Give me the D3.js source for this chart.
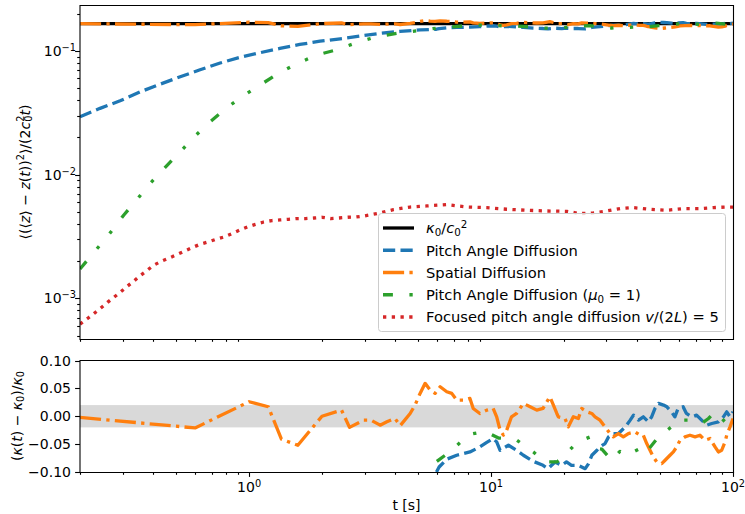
<!DOCTYPE html>
<html>
<head>
<meta charset="utf-8">
<script src="https://cdn.jsdelivr.net/npm/d3@7"></script>
<style>
  body { margin: 0; background: #fff; }
  svg { display: block; }
  text { font-family: "DejaVu Sans", sans-serif; fill: #000; }
</style>
</head>
<body>
<svg id="chart" width="745" height="514"></svg>
<script>
// Reference diffusion coefficient kappa0 / c0^2
const kappaRef = 1 / 6;
const timeDomain = [0.2, 100];

// Pitch angle diffusion, early times: [t, <(<z>-z)^2>/(2 c0^2 t)]
const pitchEarly = [
  [0.2, 0.0294], [0.242, 0.0344], [0.293, 0.0396], [0.355, 0.0468], [0.429, 0.0540],
  [0.519, 0.0619], [0.627, 0.0705], [0.759, 0.0800], [0.918, 0.0889], [1.11, 0.0969],
  [1.34, 0.105], [1.62, 0.113], [1.965, 0.120], [2.38, 0.1255], [2.87, 0.132],
  [3.48, 0.139], [4.2, 0.144], [5.1, 0.148]
];
// Pitch angle diffusion, relative deviation (kappa(t) - kappa0) / kappa0
const pitchDev = [
  [5.95, -0.1], [6.1, -0.091], [6.56, -0.077], [7.21, -0.070], [8.18, -0.064], [8.99, -0.055],
  [9.6, -0.047], [10.2, -0.040], [10.55, -0.046], [10.9, -0.061], [11.8, -0.052], [12.75, -0.061],
  [13.6, -0.070], [14.96, -0.081], [16.4, -0.088], [17.2, -0.094], [18.38, -0.082], [19.6, -0.088],
  [20.5, -0.082], [21.5, -0.088], [22.95, -0.088], [24.5, -0.094], [25.3, -0.085], [26.1, -0.070],
  [27.4, -0.061], [28.2, -0.055], [29.6, -0.049], [30.6, -0.037], [32.0, -0.031], [33.6, -0.031],
  [35.9, -0.019], [37.6, -0.007], [38.8, 0.002], [40.7, -0.007], [42.6, -0.001], [44.7, -0.010],
  [46.1, -0.001], [47.6, 0.014], [49.2, 0.023], [51.6, 0.020], [53.3, 0.017], [55.7, 0.008],
  [57.5, -0.001], [59.3, 0.014], [62.2, 0.017], [64.2, 0.005], [67.4, -0.001], [70.7, 0.002],
  [74.2, -0.007], [77.9, -0.016], [81.7, -0.013], [87.0, -0.010], [91.3, -0.001], [94.2, 0.008],
  [97.2, -0.001], [100, 0.008]
];
// Spatial diffusion, relative deviation
const spatialDev = [
  [0.2, -0.002], [0.598, -0.021], [1.0, 0.026], [1.2, 0.017], [1.36, -0.041], [1.59, -0.052],
  [2.0, 0.0], [2.41, 0.011], [2.6, -0.02], [2.97, -0.007], [3.19, -0.007], [3.48, -0.016],
  [3.71, -0.010], [4.01, -0.004], [4.21, -0.017], [4.63, 0.005], [4.85, 0.02], [5.09, 0.041],
  [5.34, 0.059], [5.6, 0.047], [5.87, 0.041], [6.16, 0.053], [6.56, 0.044], [6.88, 0.041],
  [7.21, 0.029], [7.68, 0.029], [8.18, 0.032], [8.44, 0.014], [8.99, 0.005], [9.6, 0.011],
  [10.2, 0.014], [10.55, -0.001], [10.9, -0.025], [11.25, -0.034], [11.6, -0.025], [12.15, -0.001],
  [12.75, 0.005], [13.6, 0.023], [14.5, 0.017], [15.45, 0.011], [16.4, 0.014], [17.5, 0.035],
  [18.1, 0.02], [18.7, 0.005], [18.97, -0.001], [20.22, -0.004], [20.86, -0.019], [21.88, -0.001],
  [22.95, -0.004], [23.7, 0.014], [24.86, 0.008], [26.08, 0.005], [26.9, -0.001], [28.21, -0.007],
  [29.59, -0.019], [31.02, -0.031], [32.02, -0.037], [33.58, -0.031], [35.22, -0.037], [36.94, -0.031],
  [39.36, -0.028], [41.28, -0.034], [42.6, -0.034], [44.0, -0.049], [45.4, -0.061], [46.85, -0.073],
  [48.4, -0.082], [50.75, -0.085], [52.4, -0.079], [54.9, -0.070], [56.7, -0.064], [58.5, -0.055],
  [60.4, -0.043], [63.3, -0.037], [66.4, -0.034], [69.7, -0.037], [73.0, -0.034], [76.6, -0.043],
  [80.4, -0.040], [84.3, -0.055], [87.0, -0.064], [89.8, -0.061], [92.7, -0.046], [94.2, -0.034],
  [97.2, -0.019], [100, -0.004]
];
// Pitch angle diffusion with mu0 = 1, early times
const mu1Early = [
  [0.2, 0.00173], [0.235, 0.00252], [0.265, 0.00334], [0.303, 0.0047], [0.345, 0.00634],
  [0.387, 0.00838], [0.438, 0.01087], [0.519, 0.0153], [0.589, 0.0200], [0.690, 0.0268],
  [0.809, 0.0348], [0.933, 0.0427], [1.11, 0.0531], [1.334, 0.0667], [1.564, 0.0785],
  [1.904, 0.0929], [2.34, 0.1032], [2.77, 0.1167], [3.37, 0.1306], [4.2, 0.140], [5.1, 0.1466]
];
// Pitch angle diffusion with mu0 = 1, relative deviation
const mu1Dev = [
  [5.97, -0.081], [6.88, -0.061], [8.07, -0.033], [9.44, -0.027], [10.73, -0.039], [12.6, -0.041],
  [14.96, -0.064], [16.7, -0.082], [18.7, -0.082], [19.9, -0.073], [22.6, -0.047], [25.7, -0.037],
  [27.8, -0.058], [28.7, -0.059], [31.5, -0.079], [34.1, -0.063], [36.3, -0.070], [41.3, -0.058],
  [43.3, -0.067], [49.2, -0.037], [55.7, -0.019], [59.3, -0.007], [65.4, -0.007], [67.4, -0.010],
  [74.2, -0.013], [79.2, -0.004], [84.3, 0.008], [87.0, 0.002], [92.7, -0.010], [98.9, -0.025],
  [100, -0.02]
];
// Focused pitch angle diffusion, v/(2L) = 5
const focused = [
  [0.2, 0.00062], [0.2156, 0.000692], [0.2294, 0.00076], [0.2445, 0.000841], [0.2598, 0.000929],
  [0.2768, 0.001025], [0.295, 0.001133], [0.3131, 0.00125], [0.3339, 0.001381], [0.3545, 0.001527],
  [0.3789, 0.001686], [0.4023, 0.001851], [0.4329, 0.001995], [0.4672, 0.00212], [0.5025, 0.00226],
  [0.5404, 0.00241], [0.583, 0.00258], [0.6272, 0.00274], [0.677, 0.00286], [0.7307, 0.00301],
  [0.7883, 0.00314], [0.8481, 0.00334], [0.9118, 0.00356], [0.984, 0.00378], [1.062, 0.00397],
  [1.15, 0.00415], [1.241, 0.00426], [1.343, 0.00431], [1.453, 0.00436], [1.575, 0.00442],
  [1.709, 0.00442], [1.856, 0.00447], [2.003, 0.00453], [2.176, 0.00442], [2.354, 0.00447],
  [2.558, 0.00453], [2.768, 0.00455], [2.987, 0.00464], [3.245, 0.00478], [3.477, 0.00491],
  [3.948, 0.00522], [4.627, 0.00548], [5.424, 0.00559], [6.56, 0.00574], [7.936, 0.00548],
  [9.6, 0.00542], [11.61, 0.00526], [14.05, 0.00516], [16.99, 0.00509], [20.55, 0.00506],
  [23.32, 0.00485], [26.47, 0.00491], [30.07, 0.00509], [34.14, 0.00532], [38.73, 0.00542],
  [45.4, 0.00526], [53.2, 0.00516], [62.3, 0.00532], [73.0, 0.00532], [82.9, 0.00542],
  [94.2, 0.00548], [100, 0.00548]
];
const toleranceBand = [-0.02, 0.02];
const devTicks = [-0.10, -0.05, 0.00, 0.05, 0.10];

const toRatio = d => [d[0], kappaRef * (1 + d[1])];

const lw = 3.3;
const series = [
  { key: "ref", color: "#000000", dash: null, top: [[timeDomain[0], kappaRef], [timeDomain[1], kappaRef]], bottom: null },
  { key: "pitch", color: "#1f77b4", dash: [3.7, 1.6], top: pitchEarly.concat(pitchDev.map(toRatio)), bottom: pitchDev },
  { key: "spatial", color: "#ff7f0e", dash: [6.4, 1.6, 1, 1.6], top: spatialDev.map(toRatio), bottom: spatialDev },
  { key: "mu1", color: "#2ca02c", dash: [3, 5, 1, 5, 1, 5], top: mu1Early.concat(mu1Dev.map(toRatio)), bottom: mu1Dev },
  { key: "focused", color: "#d62728", dash: [1, 1.65], top: focused, bottom: null }
];
const dashArray = s => s.dash ? s.dash.map(v => (v * lw).toFixed(2)).join(",") : null;

const svg = d3.select("#chart");
const FS = 14;
const LEG_FS = 14.7;

const x = d3.scaleLog().domain(timeDomain).range([80, 733]);
const yTop = d3.scaleLog().domain([Math.pow(10, -3.328), Math.pow(10, -0.628)]).range([339, 5]);
const yBot = d3.scaleLinear().domain([-0.1, 0.1]).range([472, 360.5]);

const defs = svg.append("defs");
defs.append("clipPath").attr("id", "clipTop").append("rect")
  .attr("x", 80).attr("y", 5).attr("width", 653).attr("height", 334);
defs.append("clipPath").attr("id", "clipBot").append("rect")
  .attr("x", 80).attr("y", 360.5).attr("width", 653).attr("height", 111.5);

// rich text helper: parts with italic / sub / sup
function rich(sel, parts, size) {
  let cur = 0;
  parts.forEach(p => {
    const shift = p.sup ? -0.36 * size : p.sub ? 0.2 * size : 0;
    const ts = sel.append("tspan").text(p.s);
    ts.attr("dy", (shift - cur).toFixed(2));
    cur = shift;
    if (p.sup || p.sub) ts.attr("font-size", (size * 0.7).toFixed(2));
    if (p.it) ts.attr("font-style", "italic");
    if (p.dx) ts.attr("dx", p.dx);
  });
}

// ---------- top panel ----------
const gTop = svg.append("g").attr("clip-path", "url(#clipTop)");
const lineTop = d3.line().x(d => x(d[0])).y(d => yTop(d[1]));
series.forEach(s => {
  gTop.append("path").datum(s.top)
    .attr("d", lineTop)
    .attr("fill", "none")
    .attr("stroke", s.color)
    .attr("stroke-width", lw)
    .attr("stroke-linejoin", "round")
    .attr("stroke-dasharray", dashArray(s));
});

// ---------- bottom panel ----------
const gBot = svg.append("g").attr("clip-path", "url(#clipBot)");
gBot.append("rect")
  .attr("x", 80).attr("width", 653)
  .attr("y", yBot(toleranceBand[1]))
  .attr("height", yBot(toleranceBand[0]) - yBot(toleranceBand[1]))
  .attr("fill", "#d9d9d9");
const lineBot = d3.line().x(d => x(d[0])).y(d => yBot(d[1]));
series.filter(s => s.bottom).forEach(s => {
  gBot.append("path").datum(s.bottom)
    .attr("d", lineBot)
    .attr("fill", "none")
    .attr("stroke", s.color)
    .attr("stroke-width", lw)
    .attr("stroke-linejoin", "round")
    .attr("stroke-dasharray", dashArray(s));
});

// ---------- axes ----------
const isMajor = v => Math.abs(Math.log10(v) - Math.round(Math.log10(v))) < 1e-9;
const xTicks = x.ticks();
const axisG = svg.append("g").attr("stroke", "#000").attr("stroke-width", 1.1);

xTicks.filter(v => !isMajor(v)).forEach(v => {
  const px = Math.round(x(v)) + 0.5;
  axisG.append("line").attr("x1", px).attr("x2", px).attr("y1", 339).attr("y2", 339 + 2.8);
});
xTicks.forEach(v => {
  const px = Math.round(x(v)) + 0.5;
  axisG.append("line").attr("x1", px).attr("x2", px).attr("y1", 472)
    .attr("y2", 472 + (isMajor(v) ? 4.9 : 2.8));
});
yTop.ticks().forEach(v => {
  const py = Math.round(yTop(v)) + 0.5;
  axisG.append("line").attr("y1", py).attr("y2", py).attr("x1", 80)
    .attr("x2", 80 - (isMajor(v) ? 4.9 : 2.8));
});
devTicks.forEach(v => {
  const py = Math.round(yBot(v)) + 0.5;
  axisG.append("line").attr("y1", py).attr("y2", py).attr("x1", 80).attr("x2", 80 - 4.9);
});

// spines
const spine = svg.append("g").attr("stroke", "#000").attr("stroke-width", 1.1).attr("fill", "none");
spine.append("line").attr("x1", 80).attr("x2", 733.5).attr("y1", 5.5).attr("y2", 5.5);
spine.append("line").attr("x1", 80).attr("x2", 733.5).attr("y1", 339.5).attr("y2", 339.5);
spine.append("line").attr("x1", 733.5).attr("x2", 733.5).attr("y1", 5).attr("y2", 340);
spine.append("line").attr("x1", 80).attr("x2", 80).attr("y1", 5).attr("y2", 340);
spine.append("line").attr("x1", 80).attr("x2", 733.5).attr("y1", 360.5).attr("y2", 360.5);
spine.append("line").attr("x1", 80).attr("x2", 733.5).attr("y1", 472.5).attr("y2", 472.5);
spine.append("line").attr("x1", 733.5).attr("x2", 733.5).attr("y1", 360).attr("y2", 473);
spine.append("line").attr("x1", 80).attr("x2", 80).attr("y1", 360).attr("y2", 473);

function powLabel(tx, ty, exp, anchor) {
  const t = svg.append("text").attr("x", tx).attr("y", ty).attr("font-size", FS)
    .attr("text-anchor", anchor);
  const e = exp < 0 ? "\u2212" + (-exp) : String(exp);
  rich(t, [{ s: "10" }, { s: e, sup: true }], FS);
  return t;
}
yTop.ticks().filter(isMajor).forEach(v => {
  powLabel(76, yTop(v) + 5, Math.round(Math.log10(v)), "end");
});
xTicks.filter(isMajor).forEach(v => {
  powLabel(x(v), 492, Math.round(Math.log10(v)), "middle");
});
devTicks.forEach(v => {
  svg.append("text").attr("x", 71).attr("y", yBot(v) + 5).attr("font-size", FS)
    .attr("text-anchor", "end")
    .text(d3.format(".2f")(v).replace("-", "\u2212"));
});

svg.append("text").attr("x", 406.5).attr("y", 510).attr("font-size", FS)
  .attr("text-anchor", "middle").text("t [s]");

const yLabTop = svg.append("text").attr("font-size", FS).attr("text-anchor", "middle")
  .attr("transform", "translate(29.5,172) rotate(-90)");
rich(yLabTop, [
  { s: "\u27E8(\u27E8" }, { s: "z", it: true }, { s: "\u27E9 \u2212 " }, { s: "z", it: true },
  { s: "(" }, { s: "t", it: true }, { s: "))" }, { s: "2", sup: true }, { s: "\u27E9/(2" },
  { s: "c", it: true }, { s: "0", sub: true }, { s: "2", sup: true, dx: -6.2 }, { s: "t", it: true },
  { s: ")" }
], FS);

const yLabBot = svg.append("text").attr("font-size", FS).attr("text-anchor", "middle")
  .attr("transform", "translate(21.5,416) rotate(-90)");
rich(yLabBot, [
  { s: "(" }, { s: "\u03BA", it: true }, { s: "(" }, { s: "t", it: true }, { s: ") \u2212 " },
  { s: "\u03BA", it: true }, { s: "0", sub: true }, { s: ")/" }, { s: "\u03BA", it: true },
  { s: "0", sub: true }
], FS);

// ---------- legend ----------
const legendLabels = [
  [{ s: "\u03BA", it: true }, { s: "0", sub: true }, { s: "/" }, { s: "c", it: true }, { s: "0", sub: true }, { s: "2", sup: true }],
  [{ s: "Pitch Angle Diffusion" }],
  [{ s: "Spatial Diffusion" }],
  [{ s: "Pitch Angle Diffusion (" }, { s: "\u03BC", it: true }, { s: "0", sub: true }, { s: " = 1)" }],
  [{ s: "Focused pitch angle diffusion " }, { s: "v", it: true }, { s: "/(2" }, { s: "L", it: true }, { s: ") = 5" }]
];
const leg = svg.append("g");
leg.append("rect").attr("x", 378.5).attr("y", 213.5).attr("width", 347).attr("height", 118)
  .attr("rx", 3).attr("fill", "#fff").attr("fill-opacity", 0.8)
  .attr("stroke", "#cccccc").attr("stroke-width", 1);
const rowY = d3.scaleLinear().domain([0, 4]).range([228, 317]);
series.forEach((s, i) => {
  const yy = rowY(i);
  leg.append("line").attr("x1", 383).attr("x2", 414).attr("y1", yy).attr("y2", yy)
    .attr("stroke", s.color).attr("stroke-width", lw)
    .attr("stroke-dasharray", dashArray(s));
  const t = leg.append("text").attr("x", 426).attr("y", yy + 5.3).attr("font-size", LEG_FS);
  rich(t, legendLabels[i], LEG_FS);
});
</script>
</body>
</html>
